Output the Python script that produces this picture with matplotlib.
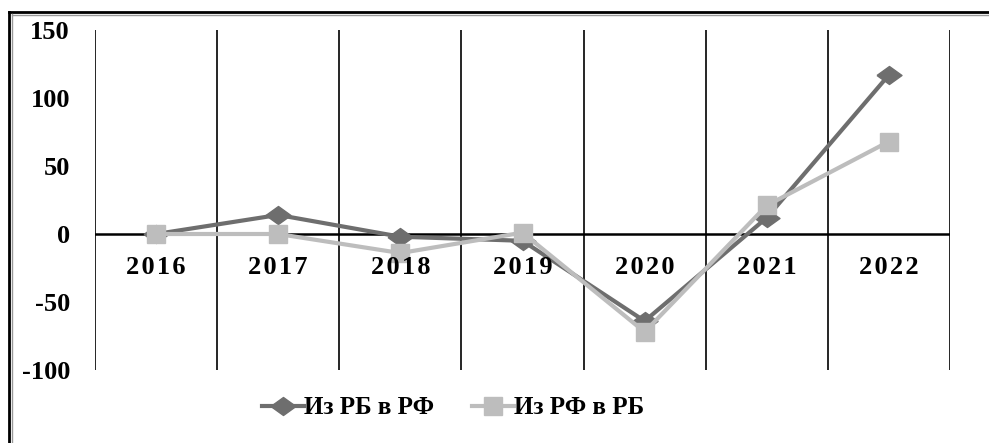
import matplotlib
matplotlib.use("Agg")
import matplotlib.pyplot as plt
from matplotlib.lines import Line2D
import numpy as np

# ── Данные ─────────────────────────────────────────────────────────
years = ["2016", "2017", "2018", "2019", "2020", "2021", "2022"]
rb_to_rf = [0, 14, -2, -5, -64, 12, 117]
rf_to_rb = [0, 0, -14, 1, -72, 21, 68]
yticks = [-100, -50, 0, 50, 100, 150]

DARK = "#6e6e6e"
LIGHT = "#bdbdbd"
FONT = "Liberation Serif"

fig = plt.figure(figsize=(9.89, 4.43), dpi=100)
W, H = 989, 443
ax = fig.add_axes([95 / W, 1 - 370 / H, (950 - 95) / W, (370 - 30) / H])

x = np.arange(len(years))
ax.set_xlim(-0.5, len(years) - 0.5)
ax.set_ylim(-100, 150)
for sp in ax.spines.values():
    sp.set_visible(False)

# вертикальные линии между категориями
for b in np.arange(-0.5, len(years), 1.0):
    ax.axvline(b, color="black", lw=1.2, zorder=1)
ax.axhline(0, color="black", lw=1.8, zorder=1)

diamond = [(-1, 0), (0, 0.72), (1, 0), (0, -0.72), (-1, 0)]
ax.plot(x, rb_to_rf, color=DARK, lw=3, marker=diamond, markersize=18,
        label="Из РБ в РФ", zorder=3)
ax.plot(x, rf_to_rb, color=LIGHT, lw=3, marker="s", markersize=13,
        label="Из РФ в РБ", zorder=4)

ax.set_xticks([])
ax.set_yticks(yticks)
ax.set_yticklabels([str(v) for v in yticks], fontfamily=FONT,
                   fontweight="bold", fontsize=19)
ax.tick_params(axis="y", length=0, pad=18)

for i, yr in enumerate(years):
    ax.text(i, -16, "\u200a".join(yr), ha="center", va="top",
            fontfamily=FONT, fontweight="bold", fontsize=19, zorder=5)

leg = fig.legend(loc="center", bbox_to_anchor=(453 / W, 1 - 408 / H), ncol=2,
                 frameon=False, handlelength=1.7, handletextpad=0.0,
                 columnspacing=1.5,
                 prop={"family": FONT, "weight": "bold", "size": 18})

# рамка
fig.add_artist(Line2D([9 / W, 9 / W], [0, 1 - 12 / H], color="black", lw=2,
                      transform=fig.transFigure))
fig.add_artist(Line2D([9 / W, 1], [1 - 12 / H, 1 - 12 / H], color="black", lw=2,
                      transform=fig.transFigure))
fig.add_artist(Line2D([11.5 / W, 11.5 / W], [0, 1 - 14 / H], color="#999999", lw=1,
                      transform=fig.transFigure))
fig.add_artist(Line2D([11.5 / W, 1], [1 - 14.5 / H, 1 - 14.5 / H], color="#999999",
                      lw=1, transform=fig.transFigure))

fig.savefig("out.png", dpi=100)
